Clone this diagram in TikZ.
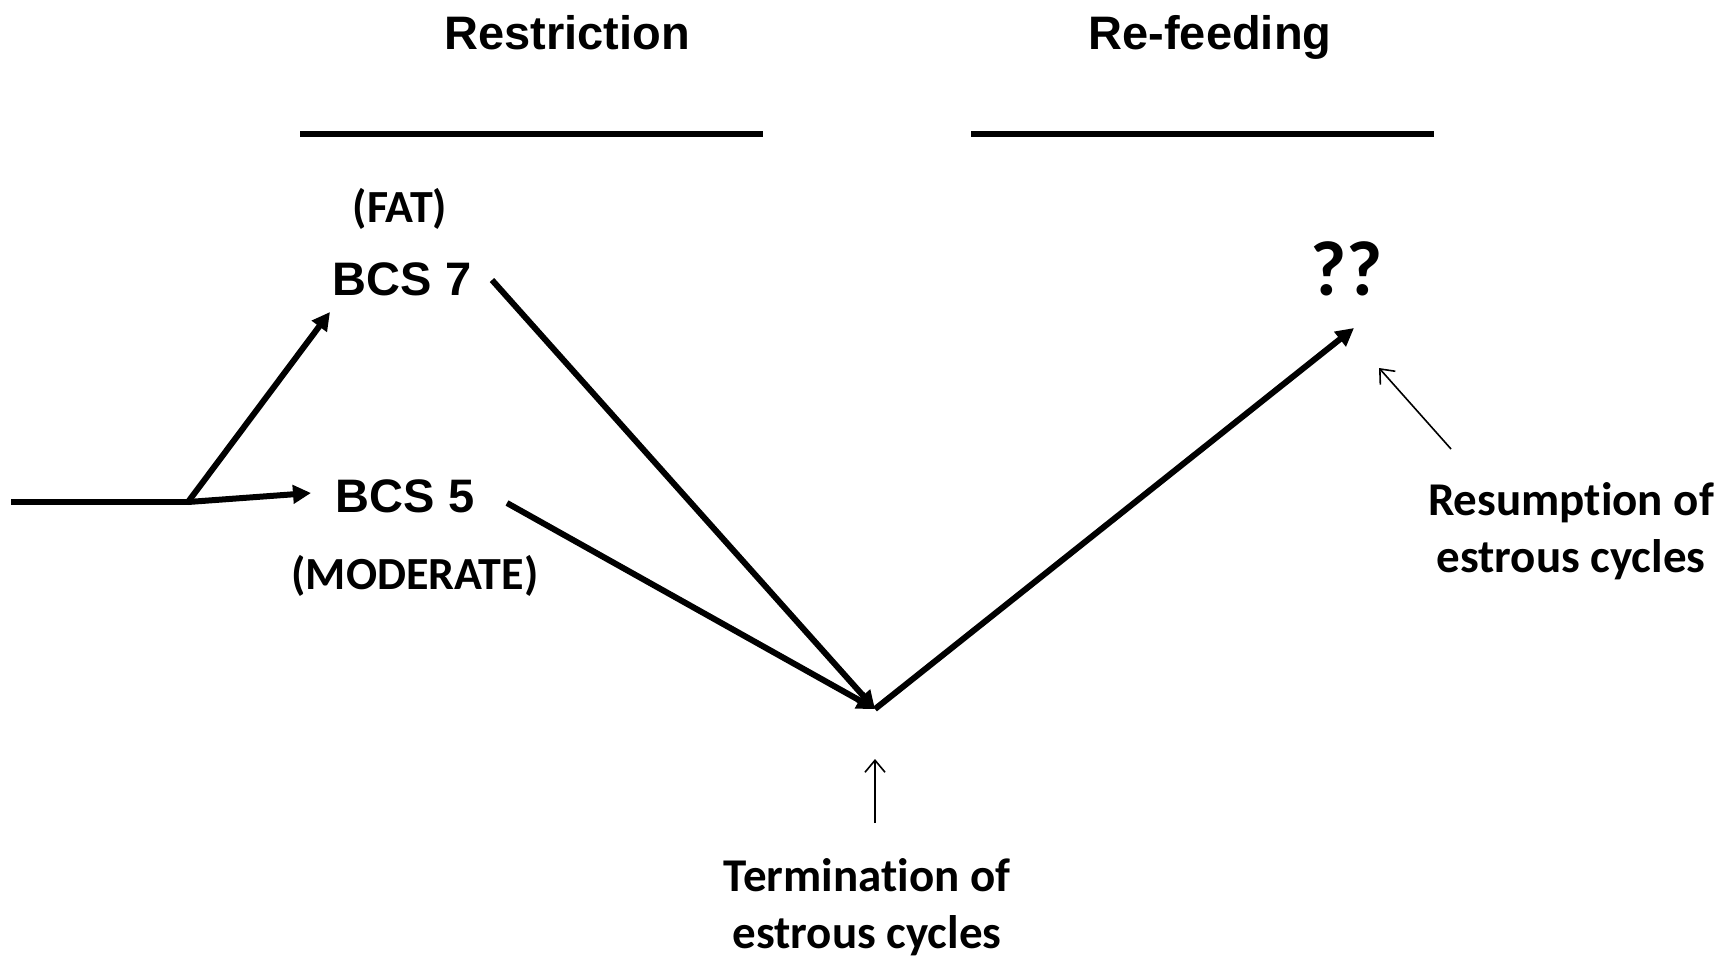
\documentclass[tikz,border=0pt]{standalone}
\usepackage{fontspec}
\setmainfont{Liberation Sans}
\newfontfamily\calibri[Ligatures=NoCommon]{Carlito}
\usetikzlibrary{arrows.meta, calc}

\begin{document}
\begin{tikzpicture}[
    x=0.5pt, y=-0.5pt,
    heading/.style={anchor=base, inner sep=0pt, font=\fontsize{23.5}{28}\selectfont\bfseries},
    score/.style={anchor=base, inner sep=0pt, font=\fontsize{23.5}{28}\selectfont\bfseries},
    tag/.style={anchor=base, inner sep=0pt, font=\calibri\fontsize{23}{28}\selectfont\bfseries},
    note/.style={align=center, inner sep=0pt, font=\calibri\fontsize{23.5}{28.5}\selectfont\bfseries},
    bar/.style={line width=3pt},
    arrow/.style={-{Triangle[length=9pt,width=9pt]}, line width=3pt},
    pointer/.style={-{Straight Barb[length=6pt,width=10pt]}, line width=0.8pt}
]
    \useasboundingbox (0,0) rectangle (1733,958);

    % phase headings
    \node (restr) [heading] at (567,49) {Restriction};
    \node (refeed) [heading] at (1210,49) {Re-feeding};
    \draw [bar] (300,134) -- (763,134);
    \draw [bar] (971,134) -- (1434,134);

    % body condition scores
    \node (fat) [tag] at (400,222) {(FAT)};
    \node (bcs7) [score] at (402,295) {BCS 7};
    \node (bcs5) [score] at (405,512) {BCS 5};
    \node (mod) [tag] at (415,589) {(MODERATE)};
    \node (qq) [anchor=base, inner sep=0pt, font=\calibri\fontsize{39}{46}\selectfont\bfseries] at (1347,295) {??};

    % notes
    \node (term) [note] at (867,907) {Termination of\\estrous cycles};
    \node (resum) [note] at (1571,531) {Resumption of\\estrous cycles};

    \coordinate (start) at (11,502);
    \coordinate (split) at (188,502);
    \coordinate (low) at (875,709);
    \coordinate (to7) at (330,312);
    \coordinate (to5) at (311,493);
    \coordinate (from7) at (492,280);
    \coordinate (from5) at (507,503);
    \coordinate (toqq) at (1354,328);
    \coordinate (termtip) at (875,759);
    \coordinate (termtail) at (875,823);
    \coordinate (resumtip) at (1379,368);
    \coordinate (resumtail) at (1451,449);

    \draw [bar] (start) -- (split);
    \draw [arrow] (split) -- (to7);
    \draw [arrow] (split) -- (to5);
    \draw [arrow] (from7) -- (low);
    \draw [arrow] (from5) -- (low);
    \draw [arrow] (low) -- (toqq);
    \draw [pointer] (termtail) -- (termtip);
    \draw [pointer] (resumtail) -- (resumtip);
\end{tikzpicture}
\end{document}
